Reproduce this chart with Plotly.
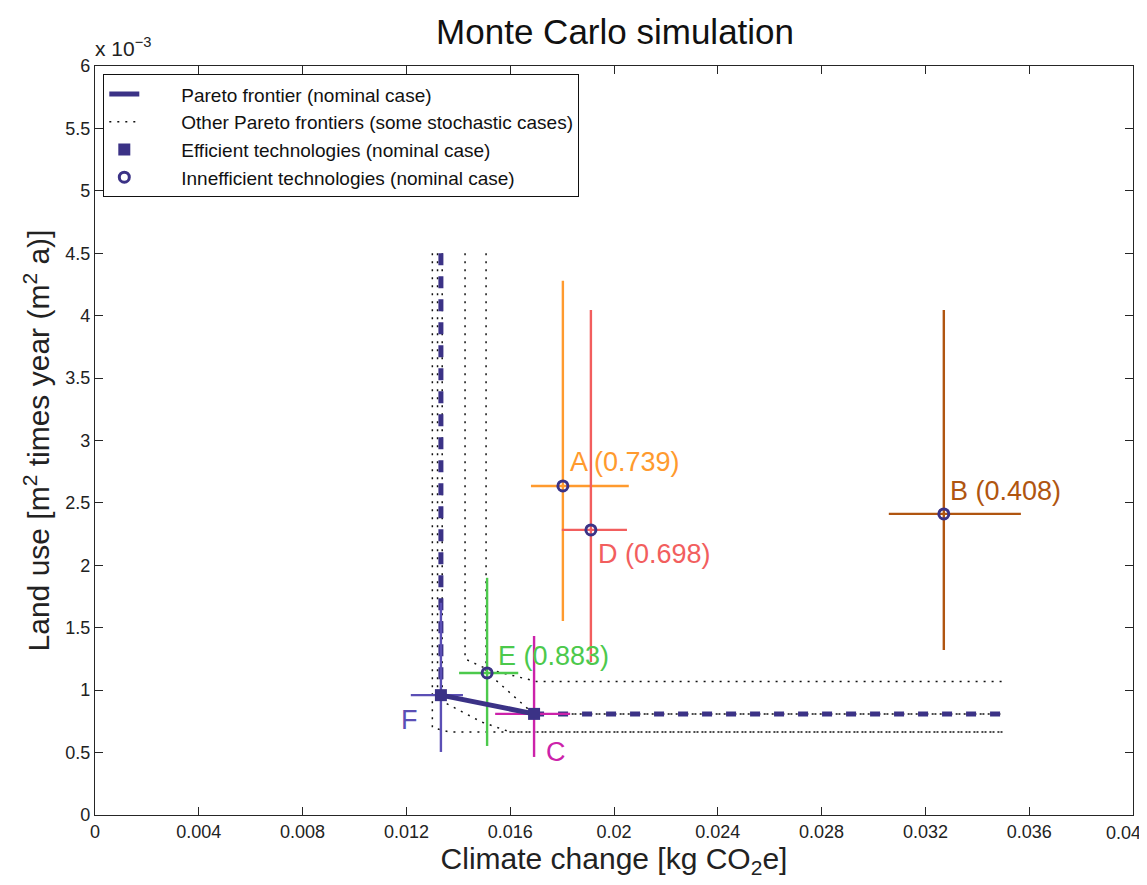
import plotly.graph_objects as go

# ---------------- data (y values in units of 1e-3 m2a) ----------------
tech_names = ["F", "C", "E", "A", "D", "B"]
tech_x = [0.01333, 0.01692, 0.01511, 0.01803, 0.01911, 0.03271]
tech_y = [0.96, 0.81, 1.138, 2.636, 2.284, 2.412]
tech_x_minus = [0.00116, 0.00150, 0.00108, 0.00123, 0.00112, 0.00212]
tech_x_plus = [0.00085, 0.00139, 0.00120, 0.00254, 0.00139, 0.00297]
tech_y_minus = [0.455, 0.345, 0.585, 1.082, 1.058, 1.090]
tech_y_plus = [0.740, 0.624, 0.762, 1.643, 1.762, 1.634]
tech_efficient = [True, True, False, False, False, False]
tech_score = ["", "", "0.883", "0.739", "0.698", "0.408"]
tech_colors = ["#5b4fb5", "#cc22aa", "#4cc94c", "#ff9a2e", "#f25e5e", "#b05510"]

# nominal Pareto frontier
nominal_top_y = 4.5
frontier_end_x = 0.035

# other (stochastic) Pareto frontiers
other_frontiers_x = [
    [0.01300, 0.01300, 0.01365, 0.035],
    [0.01320, 0.01320, 0.01490, 0.01600, 0.035],
    [0.01426, 0.01426, 0.01510, 0.01700, 0.035],
    [0.01507, 0.01507, 0.01690, 0.035],
    [0.01338, 0.01338, 0.01692, 0.035],
]
other_frontiers_y = [
    [4.5, 0.70, 0.665, 0.665],
    [4.5, 0.93, 0.745, 0.665, 0.665],
    [4.5, 1.25, 1.17, 1.07, 1.07],
    [4.5, 1.15, 0.81, 0.81],
    [4.5, 0.96, 0.81, 0.81],
]

x_ticks = [0, 0.004, 0.008, 0.012, 0.016, 0.02, 0.024, 0.028, 0.032, 0.036, 0.04]
x_tick_text = ["0", "0.004", "0.008", "0.012", "0.016", "0.02", "0.024", "0.028", "0.032", "0.036", "0.04"]
y_ticks = [0, 0.5, 1, 1.5, 2, 2.5, 3, 3.5, 4, 4.5, 5, 5.5, 6]
y_tick_text = ["0", "0.5", "1", "1.5", "2", "2.5", "3", "3.5", "4", "4.5", "5", "5.5", "6"]

NOMINAL = "#3b3286"
FONT = "Liberation Sans, Arial, sans-serif"
TICK_SIZE = 18
PAD = "\u00a0" * 7  # gap between legend symbol and text

fig = go.Figure()

# other Pareto frontiers (dotted)
for i, (fx, fy) in enumerate(zip(other_frontiers_x, other_frontiers_y)):
    fig.add_trace(go.Scatter(
        x=fx, y=fy, mode="lines",
        line=dict(color="#111111", width=1.5, dash="2px,6px"),
        name=PAD + "Other Pareto frontiers (some stochastic cases)",
        legendgroup="other", showlegend=(i == 0), legendrank=2,
        hoverinfo="skip"))

# nominal frontier pieces
iF = tech_names.index("F")
iC = tech_names.index("C")
fig.add_trace(go.Scatter(
    x=[tech_x[iF], tech_x[iF]], y=[nominal_top_y, tech_y[iF]], mode="lines",
    line=dict(color=NOMINAL, width=5, dash="12px,11px"),
    showlegend=False, legendgroup="nom", hoverinfo="skip"))
fig.add_trace(go.Scatter(
    x=[tech_x[iC], frontier_end_x], y=[tech_y[iC], tech_y[iC]], mode="lines",
    line=dict(color=NOMINAL, width=5, dash="10px,14px"),
    showlegend=False, legendgroup="nom", hoverinfo="skip"))

# error bars per technology
for i in range(len(tech_names)):
    fig.add_trace(go.Scatter(
        x=[tech_x[i]], y=[tech_y[i]], mode="markers",
        marker=dict(size=1, color="rgba(0,0,0,0)"),
        error_x=dict(type="data", symmetric=False, array=[tech_x_plus[i]],
                     arrayminus=[tech_x_minus[i]], color=tech_colors[i],
                     thickness=2.4, width=0),
        error_y=dict(type="data", symmetric=False, array=[tech_y_plus[i]],
                     arrayminus=[tech_y_minus[i]], color=tech_colors[i],
                     thickness=2.4, width=0),
        showlegend=False, hoverinfo="skip"))

# solid nominal frontier F -> C
fig.add_trace(go.Scatter(
    x=[tech_x[iF], tech_x[iC]], y=[tech_y[iF], tech_y[iC]], mode="lines",
    line=dict(color=NOMINAL, width=5),
    name=PAD + "Pareto frontier (nominal case)", legendgroup="nom", legendrank=1,
    hoverinfo="skip"))

eff_x = [x for x, e in zip(tech_x, tech_efficient) if e]
eff_y = [y for y, e in zip(tech_y, tech_efficient) if e]
ineff_x = [x for x, e in zip(tech_x, tech_efficient) if not e]
ineff_y = [y for y, e in zip(tech_y, tech_efficient) if not e]

fig.add_trace(go.Scatter(
    x=eff_x, y=eff_y, mode="markers",
    marker=dict(symbol="square", size=12, color=NOMINAL),
    name=PAD + "Efficient technologies (nominal case)", legendrank=3))
fig.add_trace(go.Scatter(
    x=ineff_x, y=ineff_y, mode="markers",
    marker=dict(symbol="circle-open", size=10, color=NOMINAL, line=dict(width=3, color=NOMINAL)),
    name=PAD + "Innefficient technologies (nominal case)", legendrank=4))

# labels
label_offsets = {
    "F": (-31, -25, "center"),
    "C": (22, -38, "center"),
    "E": (9, 17, "left"),
    "A": (5, 24, "left"),
    "D": (5, -24, "left"),
    "B": (4, 23, "left"),
}
for i, n in enumerate(tech_names):
    dx, dy, anc = label_offsets[n]
    txt = n if tech_score[i] == "" else f"{n} ({tech_score[i]})"
    fig.add_annotation(x=tech_x[i], y=tech_y[i], text=txt, showarrow=False,
                       xanchor=anc, yanchor="middle", xshift=dx, yshift=dy,
                       font=dict(family=FONT, size=27, color=tech_colors[i]))

fig.add_annotation(xref="paper", yref="paper", x=0.0, y=1.0, xanchor="left", yanchor="bottom",
                   xshift=-2, yshift=4, showarrow=False,
                   text="x 10<sup>\u22123</sup>", font=dict(family=FONT, size=21, color="#222222"))

# last x tick label placed as an annotation so it stays inside the page edge
shown_x_text = list(x_tick_text)
last_label = shown_x_text[-1]
shown_x_text[-1] = ""
fig.add_annotation(x=x_ticks[-1], xref="x", y=0, yref="paper", text=last_label,
                   showarrow=False, xanchor="right", yanchor="top", xshift=10, yshift=-6,
                   font=dict(family=FONT, size=TICK_SIZE, color="#222222"))

axis_common = dict(showline=True, linecolor="#262626", linewidth=1.3, mirror="ticks",
                   ticks="inside", ticklen=8, tickwidth=1, tickcolor="#262626",
                   showgrid=False, zeroline=False, automargin=False,
                   tickfont=dict(family=FONT, size=TICK_SIZE, color="#222222"))

# the page body adds an 8px offset, so the figure is 8px smaller with matching margins
fig.update_layout(
    width=1139, height=877,
    margin=dict(l=87, r=14, t=58, b=70),
    paper_bgcolor="white", plot_bgcolor="white",
    font=dict(family=FONT, color="#222222"),
    title=dict(text="Monte Carlo simulation", x=0.533, xanchor="center",
               y=0.9726, yanchor="middle", yref="container",
               font=dict(family=FONT, size=35, color="#111111")),
    xaxis=dict(range=[0, 0.04], tickvals=x_ticks, ticktext=shown_x_text,
               title=dict(text="Climate change [kg CO<sub>2</sub>e]", standoff=2,
                          font=dict(family=FONT, size=30, color="#222222")),
               **axis_common),
    yaxis=dict(range=[0, 6], tickvals=y_ticks, ticktext=y_tick_text,
               title=dict(text="Land use [m<sup>2</sup> times year (m<sup>2</sup> a)]", standoff=6,
                          font=dict(family=FONT, size=30, color="#222222")),
               **axis_common),
    legend=dict(x=0.008, y=0.989, xanchor="left", yanchor="top",
                bgcolor="white", bordercolor="#111111", borderwidth=1,
                font=dict(family=FONT, size=19, color="#111111"),
                tracegroupgap=0, itemsizing="trace"),
    showlegend=True,
)

fig.write_html("out.html")
